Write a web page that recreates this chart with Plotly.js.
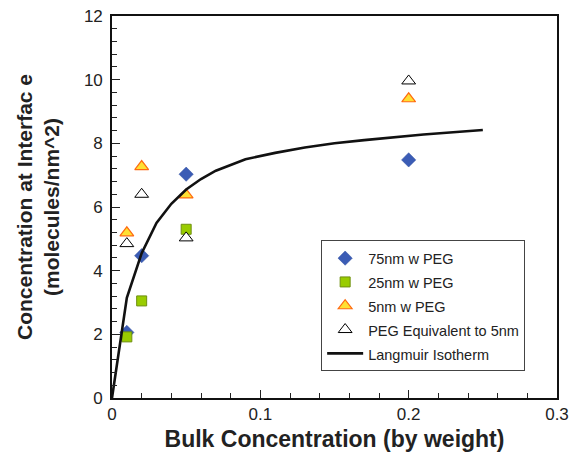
<!DOCTYPE html>
<html>
<head>
<meta charset="utf-8">
<script src="https://cdn.plot.ly/plotly-3.0.1.min.js"></script>
<style>html,body{margin:0;padding:0;background:#fff;}#chart{width:582px;height:460px;}</style>
</head>
<body>
<div id="chart"></div>
<script>
const xPoints = [0.01, 0.02, 0.05, 0.2];
const y75nm = [2.06, 4.47, 7.03, 7.48];
const y25nm = [1.92, 3.05, 5.30];
const x25nm = [0.01, 0.02, 0.05];
const y5nm = [5.19, 7.27, 6.38, 9.40];
const yPegEq = [4.85, 6.40, 5.03, 9.96];
const xLangmuir = [0, 0.01, 0.02, 0.03, 0.04, 0.05, 0.06, 0.07, 0.09, 0.11, 0.13, 0.15, 0.17, 0.19, 0.21, 0.23, 0.25];
const yLangmuir = [0, 3.15, 4.55, 5.5, 6.1, 6.55, 6.88, 7.14, 7.5, 7.7, 7.87, 8.0, 8.1, 8.2, 8.28, 8.35, 8.42];
const seriesNames = ['75nm w PEG', '25nm w PEG', '5nm w PEG', 'PEG Equivalent to 5nm', 'Langmuir Isotherm'];

const nm = s => '<span style="font-size:14.5px">' + s + '</span>';

const traces = [
  {x: xPoints, y: y75nm, name: nm(seriesNames[0]), type: 'scatter', mode: 'markers',
   marker: {symbol: 'diamond', size: 11, color: '#3b5cb5', line: {color: '#2f4f9f', width: 0.5}}},
  {x: x25nm, y: y25nm, name: nm(seriesNames[1]), type: 'scatter', mode: 'markers',
   marker: {symbol: 'square', size: 10, color: '#99cc00', line: {color: '#6f8f10', width: 1}}},
  {x: xPoints, y: y5nm, name: nm(seriesNames[2]), type: 'scatter', mode: 'markers',
   marker: {symbol: 'triangle-up', size: 12, color: '#ffe033', line: {color: '#ff6a10', width: 1.2}}},
  {x: xPoints, y: yPegEq, name: nm(seriesNames[3]), type: 'scatter', mode: 'markers',
   marker: {symbol: 'triangle-up', size: 12, color: '#ffffff', line: {color: '#000000', width: 1}}},
  {x: xLangmuir, y: yLangmuir, name: nm(seriesNames[4]), type: 'scatter', mode: 'lines',
   line: {color: '#111111', width: 2.6}}
];

const layout = {
  width: 582, height: 460,
  margin: {l: 112, r: 25, t: 16, b: 62},
  paper_bgcolor: '#ffffff', plot_bgcolor: '#ffffff',
  font: {family: 'Liberation Sans, Arial, sans-serif', color: '#222'},
  showlegend: true,
  legend: {x: 0.47, y: 0.413, xanchor: 'left', yanchor: 'top',
    bordercolor: '#444', borderwidth: 1, bgcolor: '#ffffff',
    font: {size: 16, color: '#222'}, tracegroupgap: 0, itemwidth: 36},
  xaxis: {
    range: [0, 0.3], tickvals: [0, 0.1, 0.2, 0.3], ticktext: ['0', '0.1', '0.2', '0.3'],
    ticks: 'inside', ticklen: 8, tickwidth: 1, tickcolor: '#222',
    minor: {dtick: 0.02, tick0: 0, ticks: 'inside', ticklen: 5, tickwidth: 1, tickcolor: '#222'},
    showgrid: false, zeroline: false,
    showline: true, linecolor: '#111', linewidth: 1.8, mirror: true,
    tickfont: {size: 17, color: '#222'},
    title: {text: '<b>Bulk Concentration (by weight)</b>', font: {size: 23, color: '#222'}, standoff: 8}
  },
  yaxis: {
    range: [0, 12], dtick: 2, tick0: 0,
    ticks: 'inside', ticklen: 8, tickwidth: 1, tickcolor: '#222',
    minor: {dtick: 0.4, tick0: 0, ticks: 'inside', ticklen: 5, tickwidth: 1, tickcolor: '#222'},
    showgrid: false, zeroline: false,
    showline: true, linecolor: '#111', linewidth: 1.8, mirror: true,
    tickfont: {size: 17, color: '#222'}, ticklabelstandoff: 4,
    title: {text: '<b>Concentration at Interfac e<br>(molecules/nm^2)</b>', font: {size: 21, color: '#222'}, standoff: 18}
  }
};

Plotly.newPlot('chart', traces, layout, {displayModeBar: false, staticPlot: true});
</script>
</body>
</html>
